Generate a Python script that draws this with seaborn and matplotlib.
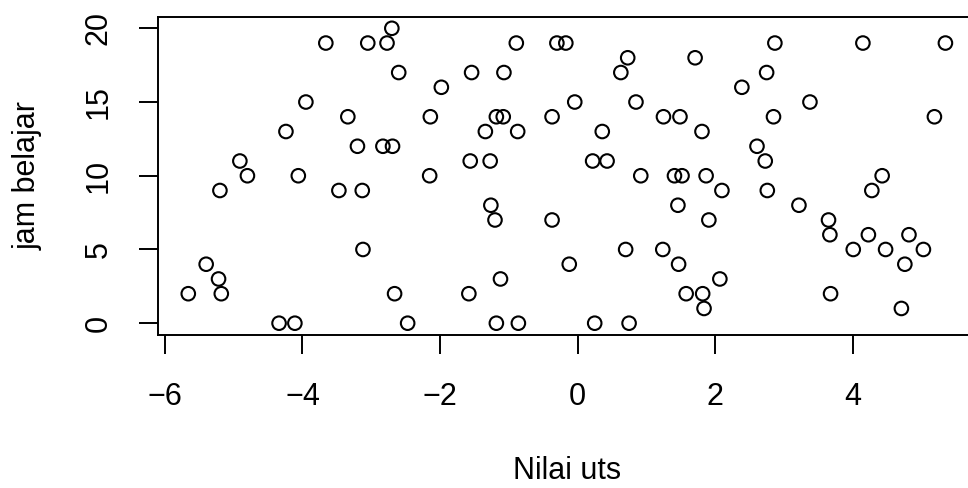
import numpy as np
import pandas as pd
import seaborn as sns
import matplotlib.pyplot as plt

# nilai uts vs jam belajar
nilai_uts = [
    -3.66, -3.05, -3.95, -3.34, -4.24, -3.20, -4.91, -4.80, -4.06, -5.20,
    -3.47, -3.13, -3.12, -5.40, -5.22, -5.66, -5.18, -4.34, -4.11,
    -2.70, -2.77, -0.89, -0.30, -0.17, -2.60, -1.54, -1.07, -1.98, -0.04,
    -2.14, -1.18, -1.08, -0.37, -1.34, -0.87, -2.83, -2.69, -1.56, -1.27,
    -2.15, -1.26, -1.20, -0.37, -0.12, -1.12, -2.66, -1.58, -2.47, -1.18,
    -0.86,
    2.87, 0.73, 1.71, 0.63, 2.75, 2.39, 0.85, 1.25, 1.49, 2.85,
    0.36, 1.81, 2.61, 0.22, 0.43, 2.73, 0.92, 1.41, 1.52, 1.87,
    2.10, 2.76, 1.46, 1.91, 0.70, 1.24, 1.47, 2.07, 1.58, 1.82,
    1.84, 0.25, 0.75,
    4.15, 5.35, 3.38, 5.19, 4.43, 4.28, 3.22, 3.65, 3.67, 4.23,
    4.82, 4.01, 4.48, 5.03, 4.76, 3.68, 4.71,
]
jam_belajar = [
    19, 19, 15, 14, 13, 12, 11, 10, 10, 9,
    9, 9, 5, 4, 3, 2, 2, 0, 0,
    20, 19, 19, 19, 19, 17, 17, 17, 16, 15,
    14, 14, 14, 14, 13, 13, 12, 12, 11, 11,
    10, 8, 7, 7, 4, 3, 2, 2, 0, 0,
    0,
    19, 18, 18, 17, 17, 16, 15, 14, 14, 14,
    13, 13, 12, 11, 11, 11, 10, 10, 10, 10,
    9, 9, 8, 7, 5, 5, 4, 3, 2, 2,
    1, 0, 0,
    19, 19, 15, 14, 10, 9, 8, 7, 6, 6,
    6, 5, 5, 5, 4, 2, 1,
]
x_ticks = [-6, -4, -2, 0, 2, 4]
y_ticks = [0, 5, 10, 15, 20]

df = pd.DataFrame({"Nilai uts": nilai_uts, "jam belajar": jam_belajar})

sns.set_style("white")
plt.rcParams['font.family'] = ['Liberation Sans', 'DejaVu Sans']
plt.rcParams['text.color'] = 'black'

fig = plt.figure(figsize=(9.68, 4.88), dpi=100)
ax = fig.add_axes([158 / 968, (488 - 335) / 488, 817.7 / 968, 318.5 / 488])

sns.scatterplot(x="Nilai uts", y="jam belajar", data=df, ax=ax,
                marker="o", s=95, facecolor="none", edgecolor="black",
                linewidth=1.5)

# batas sumbu seperti R (4% ekstra)
xr = max(nilai_uts) - min(nilai_uts)
ax.set_xlim(min(nilai_uts) - 0.04 * xr, max(nilai_uts) + 0.04 * xr)
yr = max(jam_belajar) - min(jam_belajar)
ax.set_ylim(min(jam_belajar) - 0.04 * yr, max(jam_belajar) + 0.04 * yr)

ax.set_xticks(x_ticks)
ax.set_yticks(y_ticks)
ax.set_xticklabels([f"\u2212{abs(t)}" if t < 0 else str(t) for t in x_ticks])
ax.set_yticklabels([str(t) for t in y_ticks], rotation=90, va="center")
ax.tick_params(axis="both", direction="out", length=14, width=1.4,
               color="black", labelsize=22, labelcolor="black",
               bottom=True, left=True)
ax.tick_params(axis="x", pad=20)
ax.tick_params(axis="y", pad=18)
for s in ax.spines.values():
    s.set_color("black")
    s.set_linewidth(1.4)

ax.set_xlabel("")
ax.set_ylabel("")
fig.text(567 / 968, 1 - 471 / 488, "Nilai uts", fontsize=22, color="black",
         ha="center", va="center")
fig.text(28 / 968, 1 - 176 / 488, "jam belajar", fontsize=22, color="black",
         ha="center", va="center", rotation=90)

plt.savefig("out.png", dpi=100)
